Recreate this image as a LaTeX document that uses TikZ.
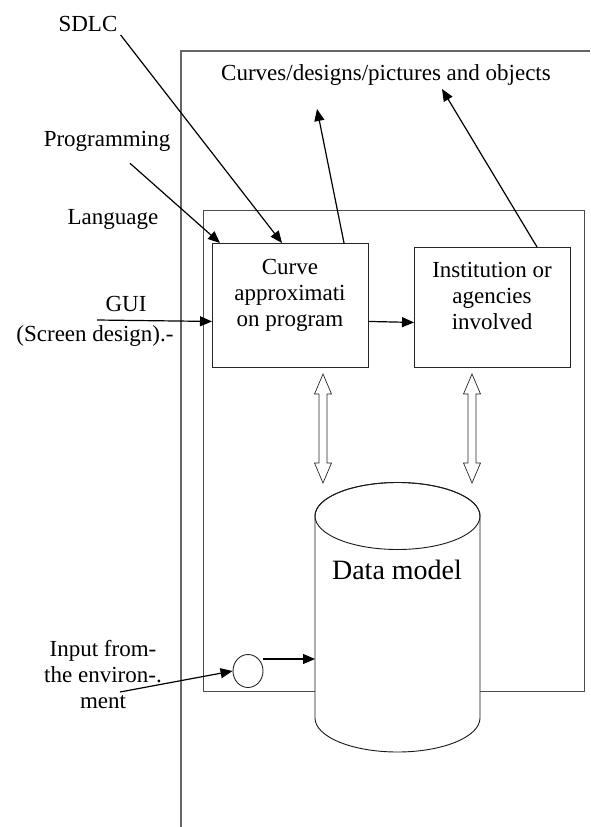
\documentclass[tikz,border=0pt]{standalone}
\usepackage{fontspec}
\setmainfont{Liberation Serif}
\usetikzlibrary{arrows.meta,shapes.geometric,calc}
\newcommand{\myDblArrow}[3]{%
  \filldraw[dbl] (#1,#2) -- (#1+8.5,#2+20) -- (#1+4,#2+20) -- (#1+4,#3-20) -- (#1+8.5,#3-20) -- (#1,#3)
    -- (#1-8.5,#3-20) -- (#1-4,#3-20) -- (#1-4,#2+20) -- (#1-8.5,#2+20) -- cycle;}
\begin{document}
\begin{tikzpicture}[x=1pt,y=-1pt,
  txt/.style={inner sep=0pt, align=center, font=\fontsize{23}{26}\selectfont},
  boxnode/.style={draw=black!85, line width=0.9pt, inner sep=0pt, anchor=north west},
  frame/.style={draw=black!60, line width=1.1pt},
  arr/.style={draw=black, line width=1.2pt, -{Triangle[length=12pt,width=10pt]}},
  dbl/.style={draw=black!85, line width=0.7pt, fill=white},
  cyl/.style={draw=black!90, line width=0.9pt, fill=white},
]
\useasboundingbox (0,0) rectangle (590,827);

% outer frame
\coordinate (ftr) at (590,51);
\coordinate (ftl) at (181,51);
\coordinate (fbl) at (181,827);
\draw[frame] (ftr) -- (ftl) -- (fbl);

% inner box
\node[boxnode, draw=black!70, minimum width=381pt, minimum height=481pt] (inner) at (203,210) {};

% process boxes
\node[boxnode, minimum width=156pt, minimum height=124pt] (b1) at (212,243) {};
\node[boxnode, minimum width=156pt, minimum height=120pt] (b2) at (414,247) {};
\node[txt] (t1) at (290,295.5) {Curve\\approximati\\on program};
\node[txt] (t2) at (492,295.5) {Institution or\\agencies\\involved};

% labels
\node[txt] (title) at (386,75) {Curves/designs/pictures and objects};
\node[txt] (sdlc) at (88,24) {SDLC};
\node[txt] (prog) at (107,141) {Programming};
\node[txt] (lang) at (113,219) {Language};
\node[txt] (gui) at (126,304) {GUI};
\node[txt] (scr) at (95,336) {(Screen design).-};
\node[txt] (inp) at (103,675) {Input from-\\the environ-.\\ment};

% arrows into / out of boxes
\draw[arr] ([xshift=3pt,yshift=-3pt]sdlc.south east) -- ([xshift=70pt]b1.north west);
\draw[arr] ([xshift=23pt,yshift=-12pt]prog.south) -- ([xshift=8pt]b1.north west);
\coordinate (guistart) at (97,320);
\draw[arr] (guistart) -- ([yshift=-16pt]b1.west);
\coordinate (up1) at (317,109);
\draw[arr] ([xshift=132pt]b1.north west) -- (up1);
\coordinate (up2) at (442,89);
\draw[arr] ([xshift=123pt]b2.north west) -- (up2);
\draw[arr] ([yshift=-16pt]b1.east) -- ([yshift=-15pt]b2.west);

% data model cylinder
\node[inner sep=0pt, minimum width=165pt, minimum height=269pt, anchor=north west] (db) at (315,483) {};
\filldraw[cyl] (315,516) -- (315,718) arc[start angle=180, end angle=0, x radius=82.5, y radius=34]
  -- (480,516) arc[start angle=0, end angle=-180, x radius=82.5, y radius=33.5] -- cycle;
\draw[cyl, fill=none] (397.5,516) ellipse[x radius=82.5, y radius=33.5];
\node[inner sep=0pt, font=\fontsize{28}{32}\selectfont] (dbt) at (397,570) {Data model};

% double arrows
\myDblArrow{323}{374}{483}
\myDblArrow{472}{374}{483}

% input circle
\node[ellipse, draw=black!85, line width=0.9pt, fill=white, minimum width=30pt, minimum height=33pt, inner sep=0pt] (ci) at (248,671) {};
\draw[arr] ([yshift=12pt]ci.east) -- ([yshift=-176pt]db.north west);
\coordinate (inpstart) at (120,692);
\draw[arr] (inpstart) -- (ci.west);
\end{tikzpicture}
\end{document}
